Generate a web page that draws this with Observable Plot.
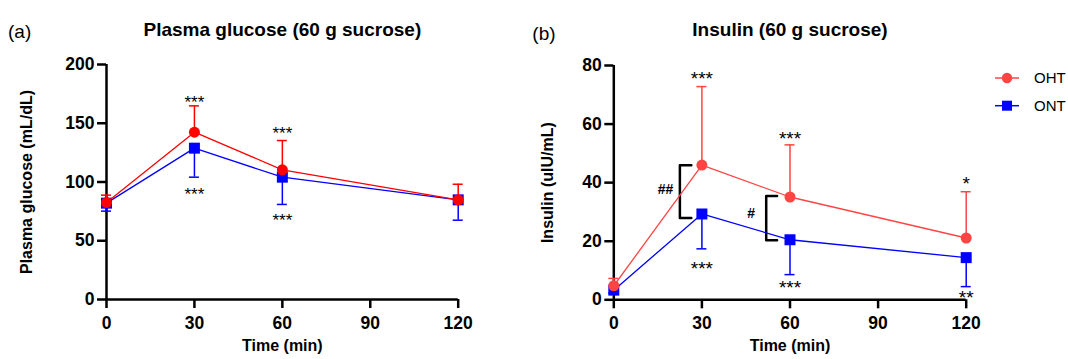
<!DOCTYPE html>
<html>
<head>
<meta charset="utf-8">
<script src="https://cdn.jsdelivr.net/npm/d3@7"></script>
<script src="https://cdn.jsdelivr.net/npm/@observablehq/plot@0.6"></script>
<style>
  body { margin: 0; background: #fff; }
  #wrap { position: relative; width: 1068px; height: 359px; font-family: "Liberation Sans", Arial, sans-serif; }
  #wrap > svg { position: absolute; top: 0; }
</style>
</head>
<body>
<div id="wrap"></div>
<script>
// Sampling times (min) and axis ticks
const times = [0, 30, 60, 120];
const timeTicks = [0, 30, 60, 90, 120];

// Plasma glucose (mL/dL): means and one-sided SD (OHT up, ONT down)
const glucoseOHT   = [82.5, 142.4, 110.4, 84.8];
const glucoseOHTsd = [6.3, 22.4, 24.9, 13.3];
const glucoseONT   = [82.0, 128.8, 104.1, 84.8];
const glucoseONTsd = [6.8, 24.7, 23.2, 17.3];
const glucoseTicks = [0, 50, 100, 150, 200];

// Insulin (uIU/mL)
const insulinOHT   = [4.8, 46.0, 35.1, 21.1];
const insulinOHTsd = [2.5, 26.8, 17.8, 15.8];
const insulinONT   = [3.3, 29.3, 20.5, 14.4];
const insulinONTsd = [1.0, 11.9, 11.9, 9.9];
const insulinTicks = [0, 20, 40, 60, 80];

// Significance marks (time, value where the mark sits, label)
const glucoseStars = [
  {t: 30, y: 172, label: "***"}, {t: 60, y: 145.5, label: "***"},
  {t: 30, y: 93.5, label: "***"}, {t: 60, y: 71.5, label: "***"}
];
const insulinStars = [
  {t: 30, y: 77, label: "***"}, {t: 60, y: 56.6, label: "***"}, {t: 120, y: 41.3, label: "*"},
  {t: 30, y: 12.3, label: "***"}, {t: 60, y: 5.9, label: "***"}, {t: 120, y: 2.5, label: "**"}
];

// OHT vs ONT brackets in the insulin panel
const insulinBrackets = [
  {x0: 22.5, x1: 26.4, top: 45.9, bottom: 27.9, label: "##", lx: 17.6, ly: 37.7},
  {x0: 51.9, x1: 55.6, top: 35.4, bottom: 20.3, label: "#", lx: 46.8, ly: 29.4}
];

const BLUE = "#0000ff";
const FONT = '"Liberation Sans", Arial, sans-serif';

function series(means, sds, sign) {
  return times.map((t, i) => ({t, v: means[i], end: means[i] + sign * sds[i]}));
}

function panel(cfg) {
  const ont = series(cfg.ont, cfg.ontSd, -1);
  const oht = series(cfg.oht, cfg.ohtSd, 1);
  const bracketPts = cfg.brackets.flatMap((b, k) => [
    {k, x: b.x1, y: b.top}, {k, x: b.x0, y: b.top}, {k, x: b.x0, y: b.bottom}, {k, x: b.x1, y: b.bottom}
  ]);
  const red = cfg.red;
  return Plot.plot({
    width: cfg.width,
    height: 359,
    marginLeft: cfg.marginLeft,
    marginRight: cfg.marginRight,
    marginTop: cfg.marginTop,
    marginBottom: cfg.marginBottom,
    x: {domain: [0, 120]},
    y: {domain: [0, cfg.yTicks[cfg.yTicks.length - 1]]},
    style: {fontFamily: FONT, color: "#000", background: "transparent", overflow: "visible"},
    marks: [
      Plot.axisX({ticks: timeTicks, tickSize: 9, tickPadding: 8, strokeWidth: 2.5,
                  fontSize: 17.5, fontWeight: "bold", label: null}),
      Plot.axisY({ticks: cfg.yTicks, tickSize: 9, tickPadding: 3, strokeWidth: 2.5,
                  fontSize: 17.5, fontWeight: "bold", label: null}),
      Plot.ruleY([0], {strokeWidth: 2.5}),
      Plot.ruleX([0], {strokeWidth: 2.5}),
      // brackets and hash marks
      Plot.line(bracketPts, {x: "x", y: "y", z: "k", stroke: "#000", strokeWidth: 2.5}),
      Plot.text(cfg.brackets, {x: "lx", y: "ly", text: "label", fontSize: 14, fontWeight: "bold"}),
      // ONT series
      Plot.line(ont, {x: "t", y: "v", stroke: BLUE, strokeWidth: 1.3}),
      Plot.ruleX(ont, {x: "t", y1: "v", y2: "end", stroke: BLUE, strokeWidth: 1.5}),
      Plot.ruleY(ont, {y: "end", x1: "t", x2: "t", insetLeft: -5, insetRight: -5, stroke: BLUE, strokeWidth: 1.5}),
      Plot.dot(ont, {x: "t", y: "v", symbol: "square", r: 6.2, fill: BLUE}),
      // OHT series
      Plot.line(oht, {x: "t", y: "v", stroke: red, strokeWidth: 1.3}),
      Plot.ruleX(oht, {x: "t", y1: "v", y2: "end", stroke: red, strokeWidth: 1.5}),
      Plot.ruleY(oht, {y: "end", x1: "t", x2: "t", insetLeft: -5, insetRight: -5, stroke: red, strokeWidth: 1.5}),
      Plot.dot(oht, {x: "t", y: "v", symbol: "circle", r: 5.5, fill: red}),
      // significance stars
      Plot.text(cfg.stars, {x: "t", y: "y", text: "label", fontSize: cfg.starSize, dy: 5}),
      // titles and axis labels
      Plot.text([cfg.title], {text: d => d, frameAnchor: "top", dy: cfg.titleDy, lineAnchor: "bottom",
                              fontSize: 19, fontWeight: "bold"}),
      Plot.text([cfg.tag], {text: d => d, frameAnchor: "top-left", textAnchor: "start", dx: cfg.tagDx,
                            dy: cfg.tagDy, lineAnchor: "bottom", fontSize: 19}),
      Plot.text([cfg.yLabel], {text: d => d, frameAnchor: "left", textAnchor: "middle", rotate: -90,
                               dx: cfg.yLabelDx, fontSize: 16, fontWeight: "bold"}),
      Plot.text(["Time (min)"], {text: d => d, frameAnchor: "bottom", dy: 51, fontSize: 16, fontWeight: "bold"})
    ]
  });
}

const wrap = document.getElementById("wrap");

const glucosePlot = panel({
  width: 520, marginLeft: 106, marginRight: 62.3, marginTop: 64, marginBottom: 60,
  yTicks: glucoseTicks, oht: glucoseOHT, ohtSd: glucoseOHTsd, ont: glucoseONT, ontSd: glucoseONTsd,
  red: "#ff0000", stars: glucoseStars, starSize: 17, brackets: [],
  title: "Plasma glucose (60 g sucrose)", titleDy: -29,
  tag: "(a)", tagDx: -98.5, tagDy: -27,
  yLabel: "Plasma glucose (mL/dL)", yLabelDx: -80
});
glucosePlot.style.left = "0px";
wrap.appendChild(glucosePlot);

const insulinPlot = panel({
  width: 548, marginLeft: 93.3, marginRight: 102.3, marginTop: 65, marginBottom: 59.7,
  yTicks: insulinTicks, oht: insulinOHT, ohtSd: insulinOHTsd, ont: insulinONT, ontSd: insulinONTsd,
  red: "#ff4444", stars: insulinStars, starSize: 19, brackets: insulinBrackets,
  title: "Insulin (60 g sucrose)", titleDy: -30,
  tag: "(b)", tagDx: -81.5, tagDy: -26,
  yLabel: "Insulin (uIU/mL)", yLabelDx: -66.3
});
insulinPlot.style.left = "520px";
wrap.appendChild(insulinPlot);

// Legend for the two groups, right of the insulin panel
const legendItems = [
  {name: "OHT", color: "#ff4444", symbol: "circle"},
  {name: "ONT", color: BLUE, symbol: "square"}
];
const legend = d3.select(wrap).append("svg")
  .attr("width", 1068).attr("height", 359)
  .style("left", "0px").style("pointer-events", "none");
const item = legend.selectAll("g").data(legendItems).join("g")
  .attr("transform", (d, i) => `translate(1007,${78 + i * 27.7})`);
item.append("line").attr("x1", -12).attr("x2", 12).attr("stroke", d => d.color).attr("stroke-width", 1.5);
item.filter(d => d.symbol === "circle").append("circle").attr("r", 5.2).attr("fill", d => d.color);
item.filter(d => d.symbol === "square").append("rect").attr("x", -5).attr("y", -5)
  .attr("width", 10).attr("height", 10).attr("fill", d => d.color);
item.append("text").attr("x", 27).attr("dy", "0.35em").attr("font-size", 15)
  .attr("font-family", FONT).text(d => d.name);
</script>
</body>
</html>
